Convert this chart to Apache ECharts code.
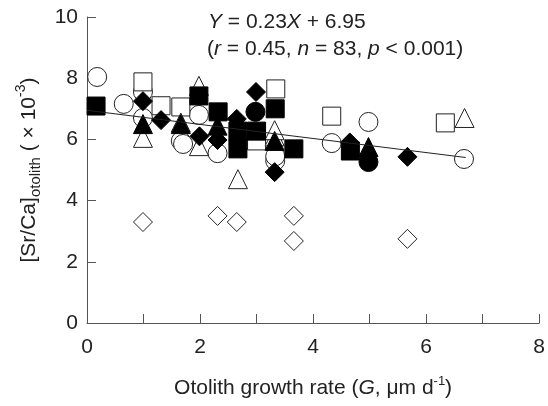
<!DOCTYPE html>
<html>
<head>
<meta charset="utf-8">
<script src="https://cdn.jsdelivr.net/npm/echarts@6/dist/echarts.min.js"></script>
<style>
  html, body { margin: 0; padding: 0; background: #fff; }
  #chart { width: 548px; height: 406px; }
</style>
</head>
<body>
<div id="chart"></div>
<script>
// marker groups, [G, Sr/Ca]
const openCircle = [[0.18, 8.04], [0.65, 7.16], [0.99, 7.55], [0.99, 6.7], [1.66, 5.95], [1.7, 5.85], [1.98, 6.8], [2.31, 5.55], [3.33, 5.3], [3.33, 5.45], [4.33, 5.88], [4.98, 6.57], [6.67, 5.36]]
const openSquare = [[0.99, 7.88], [1.31, 7.1], [1.66, 7.06], [3.34, 7.65], [4.33, 6.76], [6.34, 6.54], [3.0, 5.95]]
const openTriangle = [[0.99, 6.05], [1.98, 7.75], [2.67, 4.7], [3.32, 6.1], [3.32, 6.3], [1.98, 5.78], [6.68, 6.7], [1.66, 6.55]]
const openDiamond = [[0.99, 3.3], [2.31, 3.5], [2.65, 3.3], [3.66, 3.5], [3.66, 2.68], [5.67, 2.75]]
const filledCircle = [[2.98, 6.9], [4.98, 5.26]]
const filledSquare = [[0.16, 7.09], [1.98, 7.42], [2.32, 6.9], [3.0, 6.27], [3.33, 7.0], [2.67, 6.27], [2.67, 5.69], [3.66, 5.69], [4.66, 5.62]]
const filledTriangle = [[0.99, 6.5], [1.66, 6.5], [2.31, 6.45], [3.32, 5.95], [4.98, 5.75]]
const filledDiamond = [[0.99, 7.25], [1.31, 6.63], [1.99, 6.1], [2.65, 6.67], [2.99, 7.55], [2.31, 5.98], [3.32, 4.93], [5.67, 5.43], [4.65, 5.9]]

// regression line (drawn slope is negative)
const slope = -0.23
const intercept = 6.95
const lineRange = [0, 6.7]

const xTicks = ['0', '2', '4', '6', '8']

const font = '"Liberation Sans", Arial, sans-serif'
const ink = '#222'
const fs = 21

const openStyle = { color: '#fff', borderColor: ink, borderWidth: 1, opacity: 1 }
const filledStyle = { color: '#000', borderColor: '#000', borderWidth: 1, opacity: 1 }

const scatter = (data, symbol, size, style) => ({
  type: 'scatter',
  data,
  symbol,
  symbolSize: size,
  itemStyle: style,
  silent: true
})

const myChart = echarts.init(document.getElementById('chart'))
myChart.setOption({
  animation: false,
  grid: { left: 87, right: 8, top: 17, bottom: 83 },
  textStyle: { fontFamily: font },
  xAxis: {
    type: 'value',
    min: 0,
    max: 8,
    interval: 1,
    axisLine: { lineStyle: { color: '#555', width: 1 } },
    axisTick: { inside: true, length: 9, lineStyle: { color: '#555' } },
    axisLabel: {
      margin: 14,
      fontSize: fs,
      color: ink,
      fontFamily: font,
      formatter: (v) => (v % 2 === 0 ? xTicks[v / 2] : '')
    },
    splitLine: { show: false },
    name: '{a|Otolith growth rate (}{i|G}{a|, μm d}{s|-1}{a|)}',
    nameLocation: 'middle',
    nameGap: 52,
    nameTextStyle: {
      rich: {
        a: { fontSize: fs, color: ink, fontFamily: font, lineHeight: 26, verticalAlign: 'middle' },
        i: { fontSize: fs, color: ink, fontFamily: font, fontStyle: 'italic', lineHeight: 26, verticalAlign: 'middle' },
        s: { fontSize: 13, color: ink, fontFamily: font, lineHeight: 13, verticalAlign: 'top' }
      }
    }
  },
  yAxis: {
    type: 'value',
    min: 0,
    max: 10,
    interval: 2,
    axisLine: { show: true, lineStyle: { color: '#555', width: 1 } },
    axisTick: { show: true, inside: true, length: 9, lineStyle: { color: '#555' } },
    axisLabel: { margin: 9, fontSize: fs, color: ink, fontFamily: font },
    splitLine: { show: false },
    name: '{a|[Sr/Ca]}{b|otolith}{a| ( × 10}{s|-3}{a|)}',
    nameLocation: 'middle',
    nameRotate: 90,
    nameGap: 40,
    nameTextStyle: {
      rich: {
        a: { fontSize: fs, color: ink, fontFamily: font, lineHeight: 30, verticalAlign: 'middle' },
        b: { fontSize: 15, color: ink, fontFamily: font, lineHeight: 15, verticalAlign: 'bottom' },
        s: { fontSize: 14, color: ink, fontFamily: font, lineHeight: 14, verticalAlign: 'top' }
      }
    }
  },
  series: [
    scatter(openCircle, 'circle', 19, openStyle),
    scatter(openSquare, 'rect', 18, openStyle),
    scatter(openTriangle, 'triangle', 19, openStyle),
    scatter(openDiamond, 'diamond', 19, openStyle),
    scatter(filledCircle, 'circle', 19, filledStyle),
    scatter(filledSquare, 'rect', 18, filledStyle),
    scatter(filledTriangle, 'triangle', 19, filledStyle),
    scatter(filledDiamond, 'diamond', 19, filledStyle),
    {
      type: 'line',
      data: lineRange.map((x) => [x, intercept + slope * x]),
      symbol: 'none',
      lineStyle: { color: ink, width: 1 },
      z: 5,
      silent: true
    }
  ],
  graphic: [
    {
      type: 'text',
      left: 208,
      top: 12,
      style: {
        text: '{i|Y} = 0.23{i|X} + 6.95',
        fontSize: fs,
        fontFamily: font,
        fill: ink,
        rich: {
          i: { fontStyle: 'italic', fontSize: fs, fontFamily: font, fill: ink }
        }
      }
    },
    {
      type: 'text',
      left: 207,
      top: 39,
      style: {
        text: '(r = 0.45, n = 83, p < 0.001)'.replace(/\b([rnp])\b/g, '{i|$1}'),
        fontSize: fs,
        fontFamily: font,
        fill: ink,
        rich: {
          i: { fontStyle: 'italic', fontSize: fs, fontFamily: font, fill: ink }
        }
      }
    }
  ]
})
</script>
</body>
</html>
